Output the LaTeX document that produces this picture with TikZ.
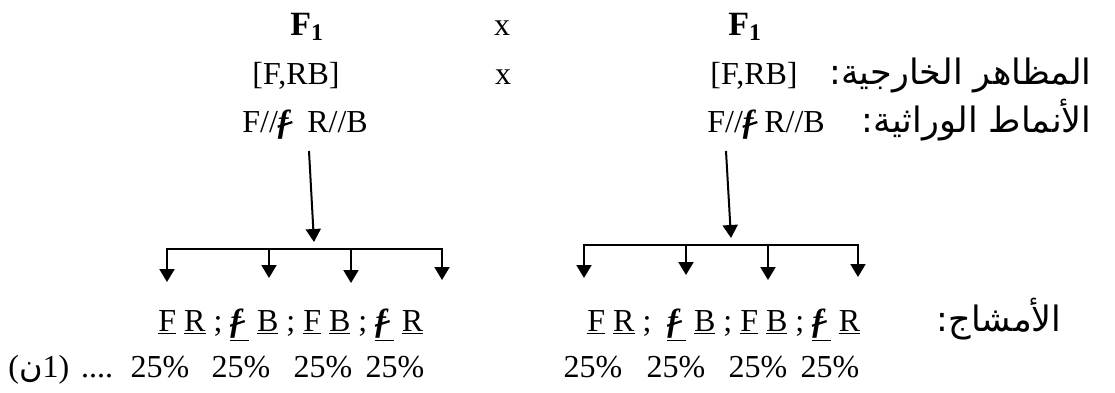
\documentclass[tikz,border=0pt]{standalone}
\usepackage{fontspec}
\usepackage{graphicx}
\setmainfont{Liberation Serif}
\newfontfamily\arabicfont[Script=Arabic]{DejaVu Sans}
\TeXXeTstate=1
\usetikzlibrary{arrows.meta}
\newcommand{\fcut}{\makebox[0pt][l]{\kern-0.02em\raisebox{0.28ex}{\rotatebox{18}{\rule{0.48em}{0.07em}}}}\textbf{\textit{f}}}
\newcommand{\artxt}[1]{{\arabicfont\fontsize{17.5}{20}\selectfont\beginR #1\endR}}

\begin{document}
\begin{tikzpicture}[x=0.5pt, y=-0.5pt,
    every node/.style={font=\fontsize{16}{19}\selectfont, inner sep=0pt},
    gen/.style={font=\fontsize{17}{20}\selectfont},
    link/.style={line width=1pt, line cap=rect},
    tip/.style={line width=1pt, -{Triangle[width=7.5pt, length=6.5pt]}}]
    \useasboundingbox (0,0) rectangle (1115,392);

    % parents
    \node[gen, anchor=base west] (pl) at (290,35) {$\mathbf{F_1}$};
    \node[anchor=base] (cross1) at (502,35) {x};
    \node[gen, anchor=base west] (pr) at (728,35) {$\mathbf{F_1}$};

    \node[anchor=base west] (phl) at (252,84) {[F,RB]};
    \node[anchor=base] (cross2) at (503,84) {x};
    \node[anchor=base west] (phr) at (710,84) {[F,RB]};
    \node[anchor=base east] (tph) at (1092,84) {\artxt{المظاهر الخارجية:}};

    \node[anchor=base west] (gl) at (242,132) {F//\fcut\ \ R//B};
    \node[anchor=base west] (gr) at (707,132) {F//\fcut\ R//B};
    \node[anchor=base east] (tge) at (1092,132) {\artxt{الأنماط الوراثية:}};

    % left tree
    \coordinate (sl) at (309,151);
    \coordinate (jl) at (314,242);
    \draw[tip] (sl) -- (jl);
    \foreach \i/\bx/\ty in {1/167/282, 2/269/278, 3/351/283, 4/442/280} {
        \coordinate (bl\i) at (\bx,249);
        \coordinate (el\i) at (\bx,\ty);
        \draw[tip] (bl\i) -- (el\i);
    }
    \draw[link] (bl1) -- (bl4);

    % right tree
    \coordinate (sr) at (726,151);
    \coordinate (jr) at (731,238);
    \draw[tip] (sr) -- (jr);
    \foreach \i/\bx/\ty in {1/584/278, 2/686/275, 3/768/280, 4/858/277} {
        \coordinate (br\i) at (\bx,245);
        \coordinate (er\i) at (\bx,\ty);
        \draw[tip] (br\i) -- (er\i);
    }
    \draw[link] (br1) -- (br4);

    % gametes
    \node[anchor=base west] (gml) at (158,331) {\underline{F} \underline{R} ; \underline{\fcut\,} \underline{B} ; \underline{F} \underline{B} ; \underline{\fcut\,} \underline{R}};
    \node[anchor=base west] (gmr) at (587,331) {\underline{F} \underline{R} ; \ \underline{\fcut\,} \underline{B} ; \underline{F} \underline{B} ; \underline{\fcut\,} \underline{R}};
    \node[anchor=base east] (tgm) at (1062,331) {\artxt{الأمشاج:}};

    % ratios
    \node[anchor=base west] (ref) at (8,377) {({\arabicfont ن}1)};
    \node[anchor=base] (dots) at (97,377) {....};
    \foreach \i/\px in {1/160, 2/241, 3/323, 4/395} {
        \node[anchor=base] (pcl\i) at (\px,377) {25\%};
    }
    \foreach \i/\px in {1/593, 2/676, 3/758, 4/830} {
        \node[anchor=base] (pcr\i) at (\px,377) {25\%};
    }
\end{tikzpicture}
\end{document}
